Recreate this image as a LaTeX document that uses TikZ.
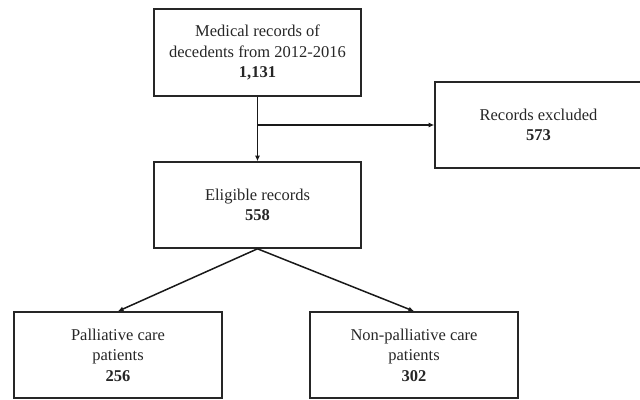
\documentclass[tikz,border=0pt]{standalone}
\usepackage{fontspec}
\setmainfont{Liberation Serif}
\usetikzlibrary{arrows.meta}
\begin{document}
\begin{tikzpicture}[x=1pt,y=1pt,
  box/.style={draw=black!85, line width=1.6pt, minimum width=207pt, minimum height=86pt,
    align=center, inner sep=0pt, font=\fontsize{16.5}{20.5}\selectfont, text=black!85},
  conn/.style={draw=black!90, line width=1.5pt, -{Latex[length=5.5pt,width=5pt]}}]
\useasboundingbox (0,0) rectangle (640,-399);
\node[box, minimum height=87pt] (top) at (257.5,-52.5) {Medical records of\\decedents from 2012-2016\\\textbf{1,131}};
\node[box] (excl) at (538.5,-125) {Records excluded\\\textbf{573}};
\node[box] (elig) at (257.5,-205) {Eligible records\\\textbf{558}};
\node[box, minimum width=208pt] (pall) at (118,-355) {Palliative care\\patients\\\textbf{256}};
\node[box, minimum width=208pt] (non) at (414,-355) {Non-palliative care\\patients\\\textbf{302}};
\coordinate (br) at (257.5,-125);
\draw[conn] (top.south) -- (elig.north);
\draw[conn] (br) -- (excl.west);
\draw[conn] (elig.south) -- (pall.north);
\draw[conn] (elig.south) -- (non.north);
\end{tikzpicture}
\end{document}
